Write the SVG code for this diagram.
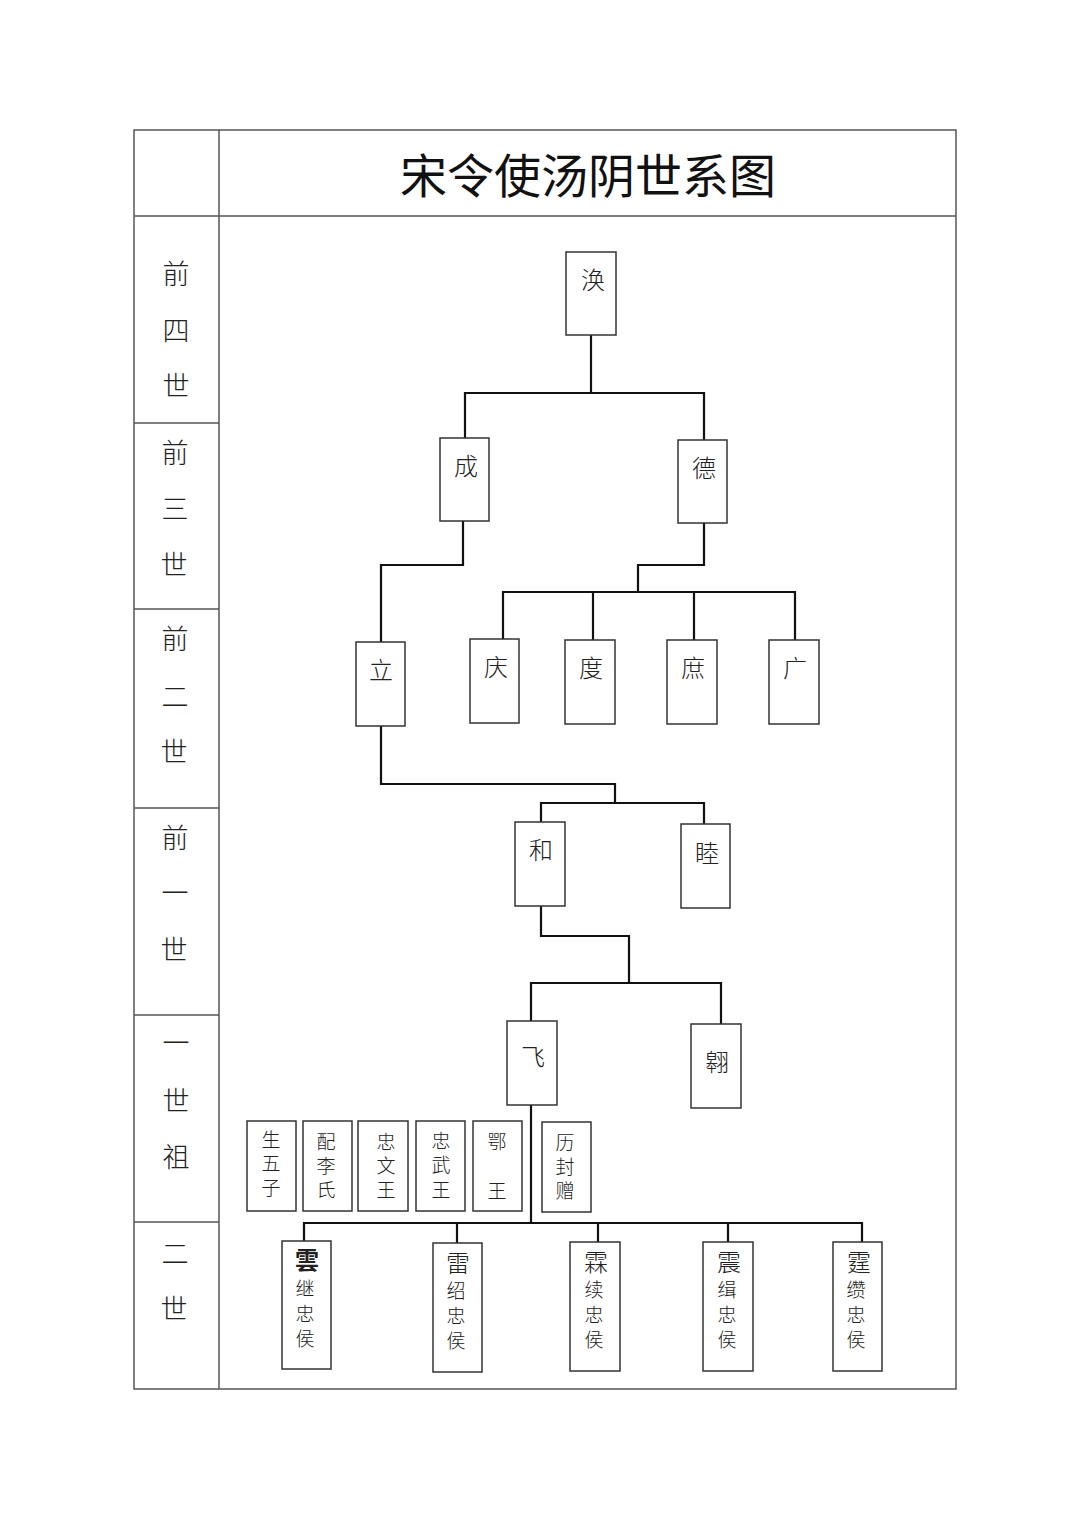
<svg xmlns="http://www.w3.org/2000/svg" width="1080" height="1527" viewBox="0 0 1080 1527">
<style>
.tbl{fill:none;stroke:#555;stroke-width:1.5}
.box{fill:#fff;stroke:#333;stroke-width:1.5}
.ln{fill:none;stroke:#111;stroke-width:2.2}
text{font-family:"Noto Sans CJK SC","Noto Sans CJK TC",sans-serif;fill:#222;text-anchor:middle;dominant-baseline:central}
.lab{font-size:27px;font-weight:300}
.nm{font-size:24px;font-weight:300}
.sm{font-size:19px;font-weight:300}
.tt{font-size:47px;font-weight:400;fill:#111}
</style>
<rect width="1080" height="1527" fill="#fff"/>
<g id="table">
<rect class="tbl" x="134" y="130" width="822" height="1259"/>
<line class="tbl" x1="219" y1="130" x2="219" y2="1389"/>
<line class="tbl" x1="134" y1="216" x2="956" y2="216"/>
<line class="tbl" x1="134" y1="423" x2="219" y2="423"/>
<line class="tbl" x1="134" y1="609" x2="219" y2="609"/>
<line class="tbl" x1="134" y1="808" x2="219" y2="808"/>
<line class="tbl" x1="134" y1="1015" x2="219" y2="1015"/>
<line class="tbl" x1="134" y1="1222" x2="219" y2="1222"/>
</g>
<g id="title"><text class="tt" x="588" y="172">宋令使汤阴世系图</text></g>
<g id="labels" transform="translate(0,-2)">
<text class="lab" x="176" y="274">前</text><text class="lab" x="176" y="331">四</text><text class="lab" x="176" y="386">世</text>
<text class="lab" x="175" y="453">前</text><text class="lab" x="175" y="509">三</text><text class="lab" x="174" y="565">世</text>
<text class="lab" x="175" y="639">前</text><text class="lab" x="175" y="697">二</text><text class="lab" x="174" y="752">世</text>
<text class="lab" x="175" y="838">前</text><text class="lab" x="175" y="893">一</text><text class="lab" x="174" y="950">世</text>
<text class="lab" x="176" y="1043">一</text><text class="lab" x="176" y="1101">世</text><text class="lab" x="176" y="1157">祖</text>
<text class="lab" x="175" y="1254">二</text><text class="lab" x="174" y="1309">世</text>
</g>
<g id="connectors">
<polyline class="ln" points="591,335 591,393"/>
<polyline class="ln" points="465,438 465,393 704,393 704,440"/>
<polyline class="ln" points="463,521 463,565 381,565 381,642"/>
<polyline class="ln" points="704,523 704,565 638,565 638,592"/>
<polyline class="ln" points="503,639 503,592 795,592 795,640"/>
<polyline class="ln" points="593,592 593,640"/>
<polyline class="ln" points="694,592 694,640"/>
<polyline class="ln" points="381,726 381,784 615,784 615,803"/>
<polyline class="ln" points="541,822 541,803 704,803 704,824"/>
<polyline class="ln" points="541,906 541,936 629,936 629,983"/>
<polyline class="ln" points="531,1021 531,983 721,983 721,1024"/>
<polyline class="ln" points="531,1105 531,1223"/>
<polyline class="ln" points="304,1241 304,1223 862,1223 862,1242"/>
<polyline class="ln" points="457,1223 457,1243"/>
<polyline class="ln" points="598,1223 598,1242"/>
<polyline class="ln" points="728,1223 728,1242"/>
</g>
<g id="n-huan"><rect class="box" x="566" y="252" width="50" height="83"/><text class="nm" x="593" y="278">涣</text></g>
<g id="n-cheng"><rect class="box" x="440" y="438" width="49" height="83"/><text class="nm" x="466" y="464">成</text></g>
<g id="n-de"><rect class="box" x="678" y="440" width="49" height="83"/><text class="nm" x="704" y="466">德</text></g>
<g id="n-li"><rect class="box" x="356" y="642" width="49" height="84"/><text class="nm" x="381" y="668">立</text></g>
<g id="n-qing"><rect class="box" x="470" y="639" width="49" height="84"/><text class="nm" x="496" y="665">庆</text></g>
<g id="n-du"><rect class="box" x="565" y="640" width="50" height="84"/><text class="nm" x="591" y="666">度</text></g>
<g id="n-shu"><rect class="box" x="667" y="640" width="50" height="84"/><text class="nm" x="693" y="666">庶</text></g>
<g id="n-guang"><rect class="box" x="769" y="640" width="50" height="84"/><text class="nm" x="795" y="666">广</text></g>
<g id="n-he"><rect class="box" x="515" y="822" width="50" height="84"/><text class="nm" x="541" y="848">和</text></g>
<g id="n-mu"><rect class="box" x="681" y="824" width="49" height="84"/><text class="nm" x="707" y="851">睦</text></g>
<g id="n-fei"><rect class="box" x="507" y="1021" width="50" height="84"/><text class="nm" x="533" y="1055">飞</text></g>
<g id="n-ao"><rect class="box" x="691" y="1024" width="50" height="84"/><text class="nm" x="717" y="1060">翱</text></g>
<g id="n-note1"><rect class="box" x="247" y="1121" width="49" height="90"/><text class="sm" x="271" y="1138">生</text><text class="sm" x="271" y="1162">五</text><text class="sm" x="271" y="1186">子</text></g>
<g id="n-note2"><rect class="box" x="303" y="1121" width="49" height="90"/><text class="sm" x="326" y="1140">配</text><text class="sm" x="326" y="1164">李</text><text class="sm" x="326" y="1188">氏</text></g>
<g id="n-note3"><rect class="box" x="358" y="1121" width="50" height="90"/><text class="sm" x="386" y="1140">忠</text><text class="sm" x="386" y="1164">文</text><text class="sm" x="386" y="1188">王</text></g>
<g id="n-note4"><rect class="box" x="416" y="1121" width="49" height="90"/><text class="sm" x="441" y="1139">忠</text><text class="sm" x="441" y="1163">武</text><text class="sm" x="441" y="1188">王</text></g>
<g id="n-note5"><rect class="box" x="473" y="1121" width="49" height="90"/><text class="sm" x="497" y="1140">鄂</text><text class="sm" x="497" y="1189">王</text></g>
<g id="n-note6"><rect class="box" x="542" y="1122" width="49" height="90"/><text class="sm" x="565" y="1141">历</text><text class="sm" x="565" y="1165">封</text><text class="sm" x="565" y="1189">赠</text></g>
<g id="n-yun"><rect class="box" x="282" y="1241" width="49" height="128"/><text x="307" y="1258" style="font-size:24px;font-weight:700">雲</text><text class="sm" x="305" y="1287">继</text><text class="sm" x="305" y="1312">忠</text><text class="sm" x="305" y="1337">侯</text></g>
<g id="n-lei"><rect class="box" x="433" y="1243" width="49" height="129"/><text class="nm" x="458" y="1261">雷</text><text class="sm" x="456" y="1289">绍</text><text class="sm" x="456" y="1314">忠</text><text class="sm" x="456" y="1339">侯</text></g>
<g id="n-lin"><rect class="box" x="570" y="1242" width="50" height="129"/><text class="nm" x="596" y="1260">霖</text><text class="sm" x="594" y="1288">续</text><text class="sm" x="594" y="1313">忠</text><text class="sm" x="594" y="1338">侯</text></g>
<g id="n-zhen"><rect class="box" x="703" y="1242" width="50" height="129"/><text class="nm" x="729" y="1260">震</text><text class="sm" x="727" y="1288">缉</text><text class="sm" x="727" y="1313">忠</text><text class="sm" x="727" y="1338">侯</text></g>
<g id="n-ting"><rect class="box" x="833" y="1242" width="49" height="129"/><text class="nm" x="859" y="1260">霆</text><text class="sm" x="856" y="1288">缵</text><text class="sm" x="856" y="1313">忠</text><text class="sm" x="856" y="1338">侯</text></g>
</svg>
